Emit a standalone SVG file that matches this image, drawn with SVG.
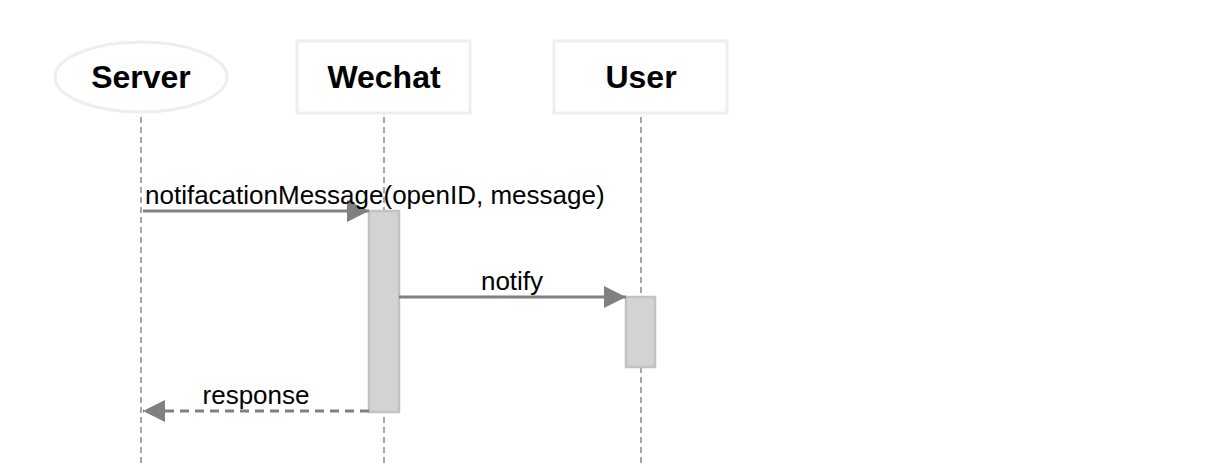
<svg xmlns="http://www.w3.org/2000/svg" width="1216" height="464" viewBox="0 0 1216 464">
<defs>
<style>
.actor{fill:#fff;stroke:#eeeeee;stroke-width:3}
.title{font-family:"Liberation Sans",Arial,sans-serif;font-weight:bold;font-size:32px;fill:#000;text-anchor:middle}
.lbl{font-family:"Liberation Sans",Arial,sans-serif;font-size:26px;fill:#000}
.life{stroke:#888;stroke-width:1.5;stroke-dasharray:6 4;fill:none}
.act{fill:#d3d3d3;stroke:#c2c2c2;stroke-width:2.5}
.msg{stroke:#808080;stroke-width:3;fill:none}
</style>
<marker id="ah" viewBox="0 0 22 22" refX="22" refY="11" markerWidth="22" markerHeight="22" markerUnits="userSpaceOnUse" orient="auto">
<path d="M0,0 L22,11 L0,22 Z" fill="#808080"/>
</marker>
</defs>
<rect width="1216" height="464" fill="#fff"/>
<g id="lifelines">
<line class="life" x1="141" y1="117" x2="141" y2="464"/>
<line class="life" x1="384" y1="117" x2="384" y2="464"/>
<line class="life" x1="641" y1="117" x2="641" y2="464"/>
</g>
<g id="Server">
<ellipse class="actor" cx="141" cy="77" rx="86" ry="35"/>
<text class="title" x="141" y="88">Server</text>
</g>
<g id="Wechat">
<rect class="actor" x="297" y="41" width="173" height="72"/>
<text class="title" x="384" y="88">Wechat</text>
</g>
<g id="User">
<rect class="actor" x="554" y="41" width="173" height="72"/>
<text class="title" x="641" y="88">User</text>
</g>
<g id="activations">
<rect class="act" x="369" y="211" width="30" height="201"/>
<rect class="act" x="626" y="297" width="29" height="70"/>
</g>
<g id="connectors">
<line class="msg" x1="143" y1="211" x2="369" y2="211" marker-end="url(#ah)"/>
<line class="msg" x1="399" y1="297" x2="626" y2="297" marker-end="url(#ah)"/>
<line class="msg" x1="369" y1="411" x2="143" y2="411" stroke-dasharray="9 6" marker-end="url(#ah)"/>
</g>
<g id="labels">
<text class="lbl" x="145" y="204">notifacationMessage(openID, message)</text>
<text class="lbl" x="512" y="290" text-anchor="middle">notify</text>
<text class="lbl" x="256" y="404" text-anchor="middle">response</text>
</g>
</svg>
